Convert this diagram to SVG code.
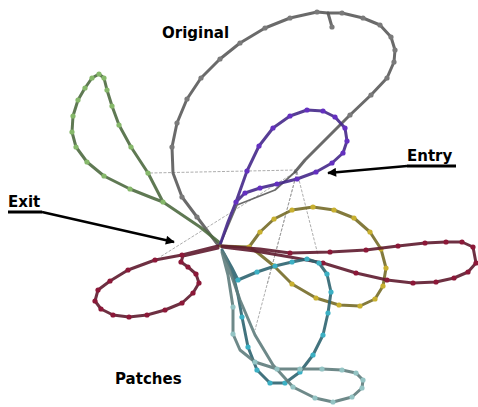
<svg xmlns="http://www.w3.org/2000/svg" width="478" height="407" viewBox="0 0 478 407">
<defs>
<style>
.lbl{font-family:"DejaVu Sans",sans-serif;font-weight:bold;font-size:15px;fill:#000}
.ln{fill:none;stroke-width:3;stroke-linejoin:round;stroke-linecap:round;opacity:0.9}
.thin{stroke-width:1.8}
.faint{fill:none;stroke:#999;stroke-width:1;stroke-dasharray:3 1.5;opacity:0.8}
.g .ln{stroke:#5a5a5a}.g circle{fill:#7a7a7a}
.gr .ln{stroke:#4e6a40}.gr circle{fill:#86b86a}
.pu .ln{stroke:#45288a}.pu circle{fill:#6430c0}
.ye .ln{stroke:#756c28}.ye circle{fill:#c8b030}
.ma .ln{stroke:#5e1a2e}.ma circle{fill:#8c1838}
.te .ln{stroke:#2e6470}.te circle{fill:#3cb0c4}
.pa .ln{stroke:#5e7c7c}.pa circle{fill:#94c4c4}
circle{r:2.6px}
</style>
<marker id="ah" viewBox="0 0 10 10" refX="9" refY="5" markerWidth="4.6" markerHeight="3.6" orient="auto" markerUnits="strokeWidth"><path d="M0,0L10,5L0,10z" fill="#000"/></marker>
</defs>
<rect width="478" height="407" fill="#fff"/>
<g id="faint-links">
<path class="faint" d="M150,173L297,170"/>
<path class="faint" d="M297,171L160,257"/>
<path class="faint" d="M297,172L255,330"/>
<path class="faint" d="M297,172L318,255"/>
<path class="faint" d="M297,172L267,285"/>
</g>
<g id="original" class="g">
<path class="ln" d="M218,245L197,217L182,197L173,173L172,147L177,123L187,99L201,78L220,59L240,43L265,28L290,18L317,12L328,13L342,13L363,18L380,25L391,37L395,50L394,62L387,78L371,95L350,115L325,140L305,160L295,172"/>
<path class="ln thin" d="M295,172L275,190L237,205L220,245"/>
<path class="ln" d="M328,13L330,20L332,27"/>
<circle cx="172" cy="147"/><circle cx="177" cy="123"/><circle cx="187" cy="99"/><circle cx="201" cy="78"/><circle cx="220" cy="59"/><circle cx="240" cy="43"/><circle cx="265" cy="28"/><circle cx="290" cy="18"/><circle cx="317" cy="12"/><circle cx="342" cy="13"/><circle cx="363" cy="18"/><circle cx="380" cy="25"/><circle cx="391" cy="37"/><circle cx="395" cy="50"/><circle cx="394" cy="62"/><circle cx="387" cy="78"/><circle cx="371" cy="95"/><circle cx="350" cy="115"/><circle cx="332" cy="27"/><circle cx="182" cy="197"/><circle cx="197" cy="217"/>
</g>
<g id="green" class="gr">
<path class="ln" d="M220,243L200,227L163,202L148,173L131,147L119,125L112,106L107,90L104,78L99,74L92,78L85,88L78,100L73,116L72,132L76,147L87,162L104,176L130,189L150,197L163,202"/>
<circle cx="163" cy="202"/><circle cx="148" cy="173"/><circle cx="131" cy="147"/><circle cx="119" cy="125"/><circle cx="112" cy="106"/><circle cx="107" cy="90"/><circle cx="104" cy="78"/><circle cx="99" cy="74"/><circle cx="92" cy="78"/><circle cx="85" cy="88"/><circle cx="78" cy="100"/><circle cx="73" cy="116"/><circle cx="72" cy="132"/><circle cx="76" cy="147"/><circle cx="87" cy="162"/><circle cx="104" cy="176"/><circle cx="130" cy="189"/>
</g>
<g id="purple" class="pu">
<path class="ln" d="M220,245L228,222L236,202L247,171L259,146L273,128L290,116L307,110L323,111L335,117L345,128L347,141L343,153L332,163L316,172L297,179L277,184L260,188L245,193L236,202"/>
<circle cx="236" cy="202"/><circle cx="247" cy="171"/><circle cx="259" cy="146"/><circle cx="273" cy="128"/><circle cx="290" cy="116"/><circle cx="307" cy="110"/><circle cx="323" cy="111"/><circle cx="335" cy="117"/><circle cx="345" cy="128"/><circle cx="347" cy="141"/><circle cx="343" cy="153"/><circle cx="332" cy="163"/><circle cx="316" cy="172"/><circle cx="297" cy="179"/><circle cx="277" cy="184"/><circle cx="260" cy="188"/><circle cx="245" cy="193"/>
</g>
<g id="yellow" class="ye">
<path class="ln" d="M220,246L249,247L260,232L274,219L292,210L313,207L334,210L354,218L370,232L381,249L386,268L383,286L375,299L360,306L339,305L316,298L292,284L274,266L258,253L249,247"/>
<circle cx="249" cy="247"/><circle cx="260" cy="232"/><circle cx="274" cy="219"/><circle cx="292" cy="210"/><circle cx="313" cy="207"/><circle cx="334" cy="210"/><circle cx="354" cy="218"/><circle cx="370" cy="232"/><circle cx="381" cy="249"/><circle cx="386" cy="268"/><circle cx="383" cy="286"/><circle cx="375" cy="299"/><circle cx="360" cy="306"/><circle cx="339" cy="305"/><circle cx="316" cy="298"/><circle cx="292" cy="284"/><circle cx="274" cy="266"/>
</g>
<g id="maroon" class="ma">
<path class="ln" d="M222,246L260,249L290,253L330,252L366,250L398,246L425,243L446,242L462,242L473,247L476,263L468,272L454,278L436,282L413,283L387,280L356,273L323,263L290,257L255,251L222,247"/>
<path class="ln" d="M218,246L182,255L155,260L128,270L110,281L98,290L95,301L101,309L113,315L129,317L147,315L165,310L182,303L193,293L199,283L196,274L188,267L181,262L183,256L218,248"/>
<circle cx="290" cy="253"/><circle cx="330" cy="252"/><circle cx="366" cy="250"/><circle cx="398" cy="246"/><circle cx="425" cy="243"/><circle cx="446" cy="242"/><circle cx="462" cy="242"/><circle cx="473" cy="247"/><circle cx="476" cy="263"/><circle cx="468" cy="272"/><circle cx="454" cy="278"/><circle cx="436" cy="282"/><circle cx="413" cy="283"/><circle cx="387" cy="280"/><circle cx="356" cy="273"/><circle cx="323" cy="263"/>
<circle cx="182" cy="255"/><circle cx="155" cy="260"/><circle cx="128" cy="270"/><circle cx="110" cy="281"/><circle cx="98" cy="290"/><circle cx="95" cy="301"/><circle cx="101" cy="309"/><circle cx="113" cy="315"/><circle cx="129" cy="317"/><circle cx="147" cy="315"/><circle cx="165" cy="310"/><circle cx="182" cy="303"/><circle cx="193" cy="293"/><circle cx="199" cy="283"/><circle cx="196" cy="274"/><circle cx="188" cy="267"/><circle cx="181" cy="262"/>
</g>
<g id="patch-teal" class="te">
<path class="ln" d="M222,250L232,268L238,280L257,272L275,266L292,262L307,259L319,263L327,274L331,292L328,313L323,335L313,355L300,372L285,383L270,383L257,370L248,347L242,317L238,295L232,270L222,250"/>
<circle cx="238" cy="280"/><circle cx="257" cy="272"/><circle cx="275" cy="266"/><circle cx="292" cy="262"/><circle cx="307" cy="259"/><circle cx="319" cy="263"/><circle cx="327" cy="274"/><circle cx="331" cy="292"/><circle cx="328" cy="313"/><circle cx="323" cy="335"/><circle cx="313" cy="355"/><circle cx="300" cy="372"/><circle cx="285" cy="383"/><circle cx="270" cy="383"/><circle cx="257" cy="370"/><circle cx="248" cy="347"/><circle cx="242" cy="317"/>
</g>
<g id="patch-pale" class="pa">
<path class="ln" d="M222,252L228,275L233,307L233,334L240,350L255,362L277,369L300,369L322,369L342,370L356,373L363,380L362,388L352,397L333,402L315,398L293,387L273,365L255,335L240,300L224,254"/>
<circle cx="233" cy="307"/><circle cx="233" cy="334"/><circle cx="255" cy="362"/><circle cx="277" cy="369"/><circle cx="300" cy="369"/><circle cx="322" cy="369"/><circle cx="342" cy="370"/><circle cx="356" cy="373"/><circle cx="363" cy="380"/><circle cx="362" cy="388"/><circle cx="352" cy="397"/><circle cx="333" cy="402"/><circle cx="315" cy="398"/><circle cx="293" cy="387"/>
</g>
<g id="connectors">
<path d="M407,166L456,166" stroke="#000" stroke-width="3" fill="none"/>
<path d="M407,166L328,173" stroke="#000" stroke-width="2.5" fill="none" marker-end="url(#ah)"/>
<path d="M8,212L42,212" stroke="#000" stroke-width="3" fill="none"/>
<path d="M42,212L174,242" stroke="#000" stroke-width="2.5" fill="none" marker-end="url(#ah)"/>
</g>
<g id="labels">
<text class="lbl" x="162" y="38">Original</text>
<text class="lbl" x="407" y="161">Entry</text>
<text class="lbl" x="8" y="207">Exit</text>
<text class="lbl" x="115" y="384">Patches</text>
</g>
</svg>
